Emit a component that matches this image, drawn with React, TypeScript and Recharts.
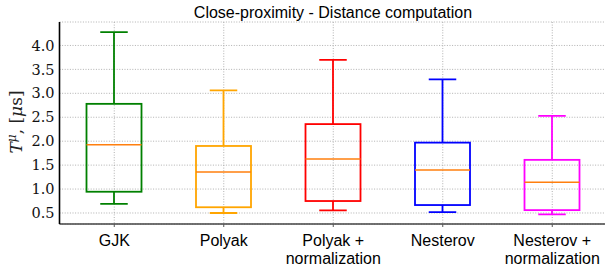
import React from 'react';
import { ComposedChart, Bar, XAxis, YAxis, CartesianGrid } from 'recharts';

const methods = ['GJK', 'Polyak', 'Polyak + normalization', 'Nesterov', 'Nesterov + normalization'];
const whiskerLow = [0.69, 0.5, 0.555, 0.52, 0.47];
const quartile1 = [0.944, 0.62, 0.75, 0.666, 0.56];
const medians = [1.925, 1.355, 1.626, 1.4, 1.14];
const quartile3 = [2.78, 1.9, 2.357, 1.97, 1.61];
const whiskerHigh = [4.28, 3.06, 3.7, 3.29, 2.53];
const boxColors = ['#008000', '#ffa500', '#ff0000', '#0000ff', '#ff00ff'];
const yTicks = [0.5, 1.0, 1.5, 2.0, 2.5, 3.0, 3.5, 4.0];

const data = methods.map((name, i) => ({
  name,
  box: [quartile1[i], quartile3[i]],
  low: whiskerLow[i],
  q1: quartile1[i],
  median: medians[i],
  q3: quartile3[i],
  high: whiskerHigh[i],
  color: boxColors[i],
}));

const BoxShape = (props: any) => {
  const { x, y, width, height, payload } = props;
  if (height == null || !payload) return null;
  // pixels per unit, taken from the bar the library scaled for us
  const k = height / (payload.q3 - payload.q1);
  const bottom = y + height;
  const cx = x + width / 2;
  const yHigh = y - (payload.high - payload.q3) * k;
  const yLow = bottom + (payload.q1 - payload.low) * k;
  const yMed = y + (payload.q3 - payload.median) * k;
  const cap = width / 4;
  const c = payload.color;
  return (
    <g strokeWidth={1.8} fill="none">
      <line x1={cx} x2={cx} y1={y} y2={yHigh} stroke={c} />
      <line x1={cx} x2={cx} y1={bottom} y2={yLow} stroke={c} />
      <line x1={cx - cap} x2={cx + cap} y1={yHigh} y2={yHigh} stroke={c} />
      <line x1={cx - cap} x2={cx + cap} y1={yLow} y2={yLow} stroke={c} />
      <rect x={x} y={y} width={width} height={height} stroke={c} />
      <line x1={x} x2={x + width} y1={yMed} y2={yMed} stroke="#ff7f0e" strokeWidth={1.5} />
    </g>
  );
};

const MethodTick = (props: any) => {
  const { x, y, payload } = props;
  const parts = String(payload.value).split(' + ');
  const lines = parts.length > 1 ? [parts[0] + ' +', parts[1]] : parts;
  return (
    <text x={x} y={y} textAnchor="middle" fill="#000" fontFamily="'Liberation Sans', sans-serif" fontSize={16}>
      {lines.map((l, i) => (
        <tspan key={i} x={x} dy={i === 0 ? 17 : 18}>{l}</tspan>
      ))}
    </text>
  );
};

export default function App() {
  return (
    <div style={{ position: 'absolute', left: 0, top: 0, width: 605, height: 268, overflow: 'hidden', background: '#fff' }}>
      <ComposedChart width={607} height={268} data={data} margin={{ top: 22, right: 0, bottom: 0, left: 0 }}>
        <CartesianGrid stroke="#a8a8a8" strokeDasharray="1 1.6" strokeWidth={0.9} />
        <XAxis
          dataKey="name"
          height={44}
          interval={0}
          tick={<MethodTick />}
          tickLine={{ stroke: '#555' }}
          tickSize={3}
          axisLine={{ stroke: '#444', strokeWidth: 1.6 }}
        />
        <XAxis xAxisId="top" dataKey="name" orientation="top" height={0} tick={false} tickLine={false} axisLine={{ stroke: '#000', strokeWidth: 1.6 }} />
        <YAxis
          type="number"
          width={59.5}
          domain={[0.27, 4.49]}
          ticks={yTicks}
          tickFormatter={(v: number) => v.toFixed(1)}
          tick={{ fill: '#111', fontFamily: "'DejaVu Serif', serif", fontSize: 14.5 }}
          tickLine={false}
          tickSize={3}
          tickMargin={2}
          axisLine={{ stroke: '#000', strokeWidth: 1.6 }}
          allowDataOverflow
        />
        <Bar dataKey="box" barSize={55} shape={<BoxShape />} isAnimationActive={false} />
        <text x={333} y={18} textAnchor="middle" fontFamily="'Liberation Sans', sans-serif" fontSize={16} fill="#000">
          Close-proximity - Distance computation
        </text>
        <text
          x={22}
          y={122}
          transform="rotate(-90 22 122)"
          textAnchor="middle"
          fontFamily="'DejaVu Serif', serif"
          fontSize={17}
          fill="#222"
        >
          <tspan fontStyle="italic">T</tspan>
          <tspan fontStyle="italic" fontSize={12} dy={-6}>μ</tspan>
          <tspan dy={6}>, [</tspan>
          <tspan fontStyle="italic">μ</tspan>
          <tspan>s]</tspan>
        </text>
      </ComposedChart>
    </div>
  );
}
